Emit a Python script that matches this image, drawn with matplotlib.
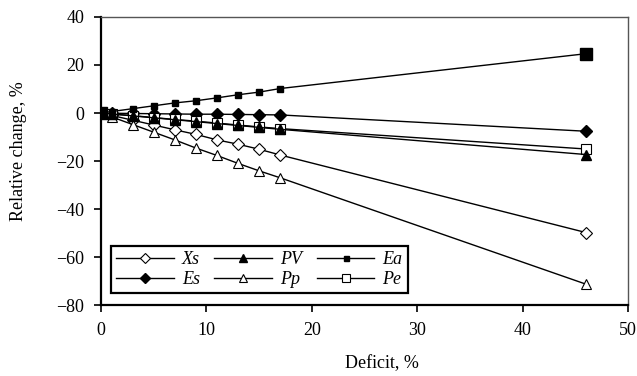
import numpy as np
import matplotlib
matplotlib.use('Agg')
import matplotlib.pyplot as plt

plt.rcParams['font.family'] = ['Liberation Serif', 'DejaVu Serif']

# deficit, %
deficit = np.array([0, 1, 3, 5, 7, 9, 11, 13, 15, 17, 46])

# relative change, %
xs = np.array([0, -1.0, -3.0, -5.0, -7.0, -8.9, -11.2, -13.0, -15.1, -17.5, -49.8])
es = np.array([0, -0.1, -0.2, -0.3, -0.4, -0.5, -0.5, -0.6, -0.7, -0.8, -7.6])
pv = np.array([0, -0.4, -1.2, -2.0, -2.8, -3.6, -4.4, -5.2, -6.0, -6.8, -17.3])
pp = np.array([0, -1.6, -4.8, -8.0, -11.2, -14.6, -17.7, -21.0, -24.1, -27.0, -71.3])
ea = np.array([0, 0.6, 1.8, 3.0, 4.2, 5.1, 6.3, 7.6, 8.7, 10.2, 24.7])
pe = np.array([0, -0.4, -1.1, -1.9, -2.7, -3.4, -4.2, -5.0, -5.8, -6.5, -15.0])

fig = plt.figure(figsize=(6.37, 3.76), dpi=100, facecolor='w')
ax = fig.add_axes([0.1586, 0.1888, 0.8273, 0.766])

lw = 1.0
h_xs, = ax.plot(deficit, xs, '-', color='k', lw=lw, marker='D', ms=6,
                mfc='w', mec='k', mew=0.8, label='Xs')
h_pp, = ax.plot(deficit, pp, '-', color='k', lw=lw, marker='^', ms=7.5,
                mfc='w', mec='k', mew=0.8, label='Pp')
h_es, = ax.plot(deficit, es, '-', color='k', lw=lw, marker='D', ms=6,
                mfc='k', mec='k', label='Es')
h_pe, = ax.plot(deficit, pe, '-', color='k', lw=lw, marker='s', ms=6.5,
                mfc='w', mec='k', mew=0.8, label='Pe')
h_pv, = ax.plot(deficit, pv, '-', color='k', lw=lw, marker='^', ms=7.5,
                mfc='k', mec='k', label='PV')
h_ea, = ax.plot(deficit, ea, '-', color='k', lw=lw, marker='s', ms=4.5,
                mfc='k', mec='k', label='Ea')
# end points of Ea drawn bigger
ends = [0, len(deficit) - 1]
ax.plot(deficit[ends], ea[ends], 's', color='k', ms=8.5)

ax.set_xlim(0, 50)
ax.set_ylim(-80, 40)
ax.set_xticks(np.arange(0, 51, 10))
ax.set_yticks(np.arange(-80, 41, 20))
ax.tick_params(direction='out', length=5, width=1.2, labelsize=13, pad=7)

for side in ['left', 'bottom']:
    ax.spines[side].set_linewidth(1.6)
for side in ['top', 'right']:
    ax.spines[side].set_linewidth(1.0)
    ax.spines[side].set_color('#555555')

ax.set_xlabel('Deficit, %', fontsize=13)
ax.xaxis.set_label_coords(0.533, -0.175)
ax.set_ylabel('Relative change, %', fontsize=13)
ax.yaxis.set_label_coords(-0.14, 0.535)

leg = ax.legend(handles=[h_xs, h_es, h_pv, h_pp, h_ea, h_pe],
                labels=['Xs', 'Es', 'PV', 'Pp', 'Ea', 'Pe'],
                ncol=3, loc='lower left', bbox_to_anchor=(0.018, 0.04),
                fancybox=False, framealpha=1, edgecolor='k',
                prop={'family': 'Liberation Serif', 'style': 'italic', 'size': 13},
                handlelength=3.2, handletextpad=0.45, markerscale=0.8,
                columnspacing=0.8, labelspacing=0.15, borderpad=0.3,
                borderaxespad=0)
leg.get_frame().set_linewidth(1.6)

plt.savefig('out.png', dpi=100)
plt.close()
